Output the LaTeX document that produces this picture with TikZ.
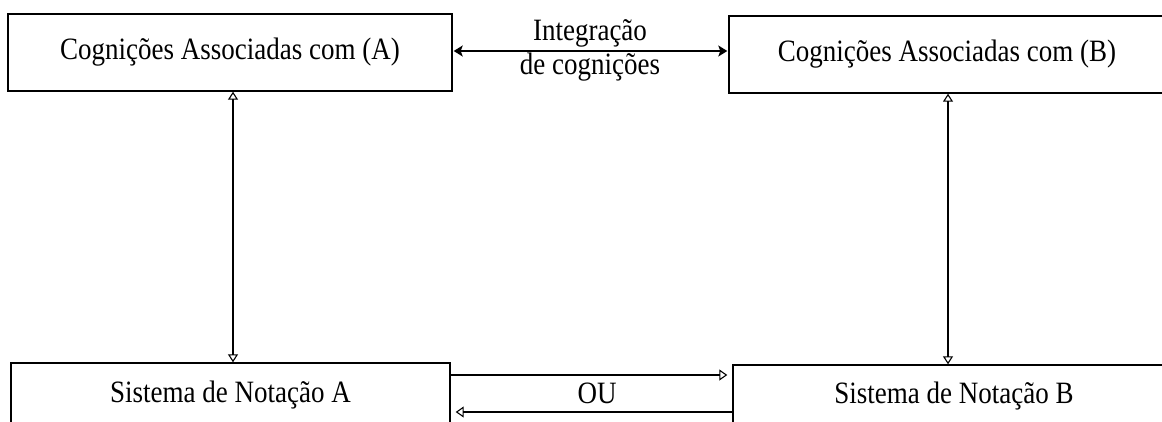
\documentclass[tikz,border=0pt]{standalone}
\usepackage{fontspec}
\setmainfont{Liberation Serif}
\usetikzlibrary{arrows.meta}
\begin{document}
\begin{tikzpicture}[x=1pt,y=-1pt,
  box/.style={draw, line width=1.4pt, inner sep=0pt, anchor=center,
    font=\fontsize{27}{31}\selectfont},
  lbl/.style={inner sep=0pt, font=\fontsize{27}{31}\selectfont},
  conn/.style={line width=1.3pt},
  openhead/.style={conn, {Triangle[open, length=8pt, width=10pt, line width=1.1pt]}-{Triangle[open, length=8pt, width=10pt, line width=1.1pt]}},
  solidhead/.style={conn, {Stealth[length=9pt, width=11pt, inset=2pt]}-{Stealth[length=9pt, width=11pt, inset=2pt]}},
  onehead/.style={conn, -{Triangle[open, length=8pt, width=11pt, line width=1.1pt]}}
]
\useasboundingbox (0,0) rectangle (1162,421);
\clip (0,0) rectangle (1162,421);
\fill[white] (0,0) rectangle (1162,421);

% upper boxes: cognitions
\node[box, minimum width=444pt, minimum height=77pt] (cogA) at (230,52.5)
  {\scalebox{1}[1.15]{Cognições Associadas com (A)}};
\node[box, minimum width=436pt, minimum height=77pt] (cogB) at (947,54.5)
  {\scalebox{1}[1.15]{Cognições Associadas com (B)}};

% lower boxes: notation systems (run past the lower edge)
\node[box, minimum width=439pt, minimum height=64pt] (notA) at (230.5,395)
  {\scalebox{1}[1.15]{Sistema de Notação A}};
\node[box, minimum width=442pt, minimum height=62pt] (notB) at (954,396)
  {\scalebox{1}[1.15]{Sistema de Notação B}};

% columns of the vertical connectors
\coordinate (colA) at (233,0);
\coordinate (colB) at (948,0);
% rows of the lower connectors
\coordinate (rowR) at (0,375);
\coordinate (rowL) at (0,412);

% integration of cognitions
\draw[solidhead, shorten <=1pt, shorten >=1pt] (cogA.east |- 0,51) -- (cogB.west |- 0,51);
\node[lbl] (integ) at (590,33) {\scalebox{1}[1.15]{Integração}};
\node[lbl] (decog) at (590,67) {\scalebox{1}[1.15]{de cognições}};

% cognitions <-> notation systems
\draw[openhead] (cogA.south -| colA) -- (notA.north -| colA);
\draw[openhead] (cogB.south -| colB) -- (notB.north -| colB);

% either notation leads to the other
\draw[onehead, shorten >=5pt] (notA.east |- rowR) -- (notB.west |- rowR);
\draw[onehead, shorten >=5pt] (notB.west |- rowL) -- (notA.east |- rowL);
\node[lbl] (ou) at (597,393) {\scalebox{1}[1.15]{OU}};
\end{tikzpicture}
\end{document}
